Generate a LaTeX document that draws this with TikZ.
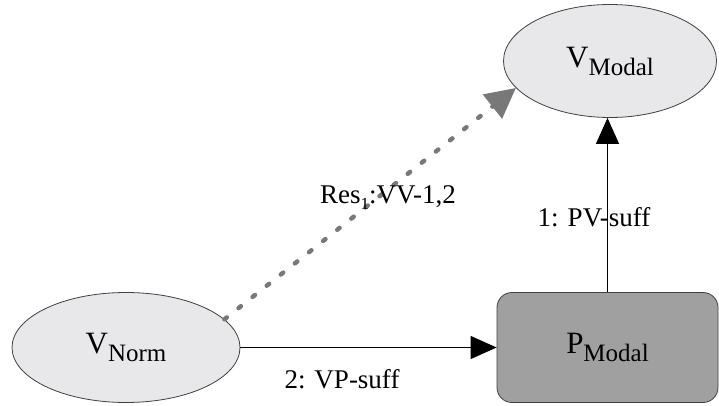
\documentclass[tikz,border=0pt]{standalone}
\usepackage{fontspec}
\setmainfont{Liberation Serif}
\usetikzlibrary{shapes.geometric,arrows.meta}
\newcommand{\nodetext}[2]{{\fontsize{31}{34}\selectfont #1\raisebox{-8pt}{\fontsize{25}{25}\selectfont #2}}}
\newcommand{\sbsmall}[1]{\raisebox{-6pt}{\fontsize{17}{17}\selectfont #1}}
\definecolor{lightfill}{RGB}{232,232,234}
\definecolor{darkfill}{RGB}{160,160,160}
\definecolor{dotgray}{RGB}{120,120,120}
\tikzset{
  ell/.style={ellipse, draw=black!75, line width=0.8pt, fill=lightfill, inner sep=0pt},
  pbox/.style={rectangle, rounded corners=15pt, draw=black!75, line width=0.8pt, fill=darkfill, inner sep=0pt},
  arr/.style={-{Triangle[length=26pt,width=23pt]}, line width=1.1pt, black},
  dotarr/.style={-{Triangle[length=30pt,width=30pt]}, line width=4.5pt, dotgray, dash pattern=on 3pt off 15pt, line cap=round},
  lbl/.style={inner sep=1pt}
}
\begin{document}
\begin{tikzpicture}[x=1pt,y=1pt,font=\fontsize{27}{30}\selectfont]
\useasboundingbox (0,0) rectangle (719,405);
\node[ell, minimum width=213pt, minimum height=113pt] (vmodal) at (610,344) {\nodetext{V}{Modal}};
\node[ell, minimum width=228pt, minimum height=110pt] (vnorm) at (126,57.5) {\nodetext{V}{Norm}};
\node[pbox, minimum width=221pt, minimum height=110pt] (pmodal) at (607.5,57.5) {\nodetext{P}{Modal}};
\draw[arr] (vnorm.east) -- (pmodal.west);
\node[lbl] (l2) at (342,26) {2: VP-suff};
\draw[arr] (pmodal.north) -- (pmodal.north |- vmodal.south);
\node[lbl] (l1) at (594,188) {1: PV-suff};
\draw[dotarr] (vnorm.16) -- (vmodal.196);
\node[lbl] (l3) at (388,207) {Res\sbsmall{1}:VV-1,2};
\end{tikzpicture}
\end{document}
